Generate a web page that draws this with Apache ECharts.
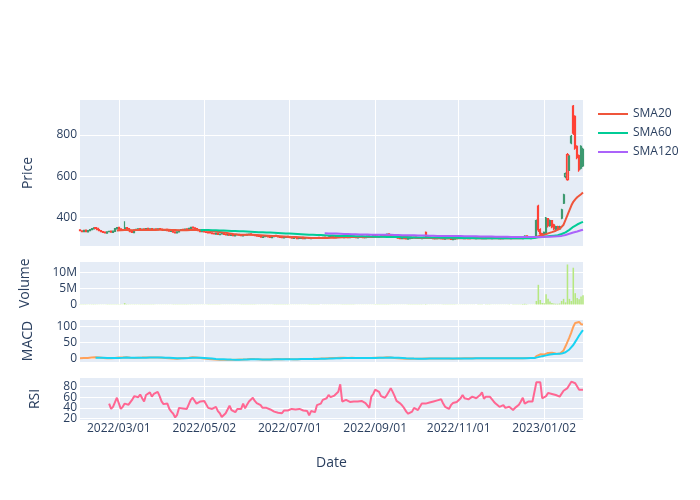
<!DOCTYPE html>
<html><head><meta charset="utf-8">
<script src="https://cdn.jsdelivr.net/npm/echarts@6/dist/echarts.min.js"></script>
<style>html,body{margin:0;padding:0;background:#fff}#c{width:700px;height:500px}</style>
</head><body><div id="c"></div>
<script>
// Trading calendar: weekdays (weekends hidden on the axis)
const startDate = '2022-02-01', endDate = '2023-01-30';
const tickLabels = ['2022/03/01','2022/05/02','2022/07/01','2022/09/01','2022/11/01','2023/01/02'];

const opens = [
340,335,331,339,330,336,341,345,351,348,342,337,332,329,324,331,334,328,333,345,
352,345,341,339,351,346,337,332,327,338,342,346,340,345,341,347,342,346,339,345,
341,346,344,341,337,343,337,333,339,330,325,330,337,343,339,345,339,347,353,350,
346,341,337,331,335,331,329,327,326,323,319,325,317,321,323,319,315,319,313,317,
311,316,319,315,311,317,314,317,321,317,315,313,311,309,304,307,309,311,307,303,
307,313,311,307,305,301,304,309,305,303,299,305,303,299,299,304,297,301,303,298,
302,299,301,304,299,301,305,300,302,305,309,306,302,306,311,307,303,309,306,302,
305,309,305,301,305,310,306,302,306,311,305,307,313,311,305,308,314,309,315,321,
316,310,307,305,303,301,297,301,298,295,297,299,301,305,299,303,298,301,328,306,
305,302,301,297,298,302,301,299,295,298,301,298,293,295,297,299,300,302,298,303,
301,297,299,302,298,299,303,301,297,298,302,301,298,299,303,302,298,301,297,299,
302,301,298,299,302,299,303,301,298,304,311,303,298,302,299,
305,455,342,322,318,324,395,360,385,365,342,356,345,397,469,598,704,631,761,939,890,744,700,639,650];
const closes = [
336,332,338,331,337,342,346,350,347,341,336,331,328,325,330,333,329,334,346,351,
344,340,338,350,345,336,331,328,339,343,345,341,344,342,346,343,345,340,344,342,
345,343,340,338,342,336,334,338,329,326,331,338,342,340,344,340,348,352,349,345,
340,336,332,334,330,328,326,325,322,320,324,318,320,322,318,316,318,314,316,312,
315,318,314,312,316,315,318,320,316,314,312,310,308,305,306,308,310,306,304,308,
312,310,306,304,302,305,308,304,302,300,304,302,298,300,303,298,300,302,299,301,
300,302,303,300,302,304,301,303,306,308,305,303,307,310,306,304,308,305,303,306,
308,304,302,306,309,305,303,307,310,306,308,312,310,306,309,313,310,316,320,315,
309,306,304,302,300,298,300,297,296,298,300,302,304,300,302,299,302,304,306,304,
301,300,298,299,301,300,298,296,299,300,297,294,296,298,300,300,301,299,302,300,
298,300,301,299,300,302,300,298,299,301,300,299,300,302,301,299,300,298,300,301,
300,299,300,301,300,302,300,299,305,310,302,299,301,300,302,
385,340,320,318,328,397,360,385,355,345,356,345,355,437,510,612,583,696,793,809,736,690,631,745,730];
const highs = [
342,338,340,341,339,344,348,353,353,350,344,339,334,331,332,335,336,336,348,354,
354,347,343,382,353,348,339,334,341,345,347,348,346,347,348,349,347,348,346,347,
347,348,346,343,344,345,339,340,341,332,333,340,344,345,346,347,350,355,355,352,
348,343,339,336,337,333,331,329,328,325,326,327,322,324,325,321,320,321,318,319,
317,320,321,317,318,319,320,322,323,319,317,315,313,311,308,310,312,313,309,310,
314,315,313,309,307,307,310,311,307,305,306,307,305,302,305,306,302,304,305,303,
304,304,305,306,304,306,307,305,308,310,311,308,309,312,313,309,310,311,308,308,
310,311,307,308,311,312,308,309,312,313,310,314,315,313,311,315,316,318,323,323,
318,312,309,307,305,303,302,303,300,300,302,304,306,307,304,305,304,306,332,308,
307,304,303,301,303,304,303,301,301,302,303,300,298,300,302,302,303,304,304,305,
303,302,303,304,302,304,305,303,301,303,304,303,302,304,305,304,302,303,302,303,
304,303,302,303,304,304,305,303,308,314,313,305,303,304,304,
390,462,348,326,332,402,398,390,388,370,360,360,360,442,515,618,712,702,800,945,895,750,705,750,738];
const lows = [
333,329,329,328,328,334,339,343,345,339,334,329,326,323,322,328,327,326,331,343,
342,338,336,337,343,334,329,326,325,336,340,339,338,340,339,341,340,338,337,340,
339,341,338,336,335,334,332,331,327,324,323,328,335,338,337,338,337,345,347,343,
338,334,330,329,328,326,324,323,320,318,317,316,315,319,316,314,313,312,311,310,
309,314,312,310,309,313,312,315,314,312,310,308,306,303,302,305,307,304,302,301,
305,308,304,302,300,299,302,302,300,298,297,300,296,297,297,296,295,299,297,296,
298,297,299,298,297,299,299,298,300,303,303,301,300,304,304,302,301,303,301,300,
303,302,300,299,303,303,301,300,304,304,303,305,308,304,303,306,308,307,313,313,
307,304,302,300,298,296,295,295,294,293,295,297,299,298,297,297,296,299,304,302,
299,298,296,295,296,298,296,294,293,296,295,292,291,293,295,297,298,297,296,298,
296,295,297,297,296,297,298,296,295,296,298,297,296,297,299,297,296,296,295,297,
298,297,296,297,298,297,298,297,296,302,300,297,296,298,297,
302,330,315,312,315,320,352,355,348,340,338,340,342,392,465,590,578,625,755,800,728,682,622,632,644];

const sma20 = Array(19).fill(null).concat([
337,
338,338,339,339,339,339,339,338,338,339,339,339,339,339,340,340,340,340,340,340,
341,341,341,341,341,341,340,340,339,339,338,338,338,338,338,338,338,339,339,339,
339,339,338,338,338,337,336,335,334,333,332,331,330,329,327,326,324,323,321,320,
319,318,318,317,317,316,316,316,316,316,315,315,315,314,313,313,312,312,311,311,
311,310,310,309,309,308,308,307,306,306,305,305,304,304,303,303,302,302,302,301,
301,301,301,301,301,301,301,301,302,302,302,302,303,303,303,304,304,304,305,305,
305,305,305,305,305,305,305,305,306,306,306,306,306,307,307,307,307,308,308,309,
309,309,309,308,308,307,307,306,305,305,304,303,303,302,301,301,301,301,301,301,
301,301,301,300,300,300,300,300,300,300,299,299,299,299,299,299,299,299,299,299,
299,299,299,299,299,300,300,300,300,300,300,300,300,300,300,300,300,300,300,300,
300,300,300,300,300,300,300,300,300,301,301,301,301,301,301,
306,310,312,314,316,320,323,326,329,332,336,340,345,352,365,388,412,435,458,476,488,498,505,513,521]);
const sma60 = Array(62).fill(null).concat([
340,339,339,339,339,339,338,338,338,338,337,337,337,336,336,336,335,335,
335,334,334,333,333,333,332,332,331,331,330,330,329,329,328,328,327,327,327,326,
326,326,325,325,324,324,323,323,322,322,321,321,320,320,319,319,318,318,317,317,
316,316,315,315,315,314,314,314,313,313,313,312,312,312,311,311,311,310,310,310,
310,310,309,309,309,309,309,308,308,308,308,308,307,307,307,307,307,306,306,306,
306,306,305,305,305,305,304,304,304,304,304,303,303,303,303,303,303,303,303,303,
303,303,303,303,303,303,302,302,302,302,302,302,302,302,302,302,301,301,301,301,
301,301,301,301,300,300,300,300,300,300,300,300,300,300,300,300,300,300,300,300,
300,300,300,300,300,300,300,300,300,300,300,300,300,301,301,
302,304,305,306,306,308,309,310,311,312,313,314,316,320,324,328,333,340,347,355,361,366,371,375,379]);
const sma120 = Array(126).fill(null).concat([
324,323,323,323,322,322,322,321,321,321,320,320,320,320,
319,319,319,319,318,318,318,318,318,318,317,317,317,317,317,316,316,316,316,316,
316,315,315,315,315,315,314,314,314,314,314,314,314,314,313,313,313,313,313,312,
312,312,312,312,311,311,311,311,311,311,311,310,310,310,310,310,310,310,309,309,
309,309,309,309,309,309,308,308,308,308,308,308,308,307,307,307,307,307,307,307,
307,307,306,306,306,306,306,306,306,306,306,306,306,306,306,
306,306,306,306,306,307,307,307,307,308,308,309,310,311,313,315,318,321,324,327,329,332,335,338,341]);

const volumes = [
60000,45000,52000,40000,50000,65000,75000,85000,70000,55000,48000,50000,45000,42000,55000,46000,43000,50000,80000,95000,
75000,60000,52000,420000,105000,80000,65000,55000,70000,62000,59000,50000,48000,46000,57000,49000,44000,47000,50000,45000,
43000,46000,49000,42000,47000,52000,49000,44000,60000,65000,56000,54000,48000,45000,51000,47000,62000,70000,55000,49000,
52000,50000,48000,44000,46000,42000,40000,41000,45000,47000,43000,49000,42000,40000,43000,45000,41000,44000,39000,42000,
41000,43000,45000,42000,40000,43000,46000,44000,42000,41000,44000,45000,47000,51000,44000,42000,45000,43000,40000,43000,
46000,42000,44000,41000,40000,43000,45000,42000,39000,41000,44000,42000,45000,40000,42000,43000,40000,39000,41000,40000,
39000,41000,42000,40000,38000,41000,43000,40000,44000,46000,42000,40000,43000,47000,44000,41000,43000,42000,40000,41000,
42000,44000,41000,40000,43000,45000,42000,40000,44000,43000,41000,46000,44000,42000,45000,48000,45000,55000,62000,49000,
47000,45000,43000,42000,41000,42000,40000,41000,40000,39000,42000,43000,44000,41000,40000,41000,42000,43000,120000,47000,
44000,42000,41000,40000,41000,40000,39000,41000,42000,40000,39000,43000,42000,40000,39000,40000,41000,39000,40000,39000,
38000,40000,41000,39000,38000,40000,41000,39000,37000,40000,41000,39000,38000,40000,42000,40000,39000,38000,39000,40000,
40000,39000,38000,41000,39000,40000,42000,40000,140000,210000,120000,45000,42000,41000,44000,
1100000,6100000,1400000,500000,400000,3200000,1750000,900000,450000,300000,250000,220000,300000,1100000,1750000,650000,12400000,1750000,1100000,11400000,3500000,2000000,1600000,2500000,2900000];

const macd = [
0,0.3,0.8,0.5,0.9,1.6,2.4,3.3,3.6,3.3,2.6,1.7,0.8,0,-0.1,0.1,-0.2,0.2,1.2,2.3,
2.6,2.5,2.3,3.0,3.1,2.4,1.5,0.6,0.8,1.3,1.9,2.0,2.3,2.4,2.8,2.8,2.9,2.6,2.6,2.4,
2.5,2.3,1.9,1.4,1.3,0.8,0.2,0.0,-0.8,-1.6,-1.6,-0.9,0.0,0.4,1.0,1.1,1.9,2.8,3.1,3.0,
2.4,1.6,0.7,0.2,-0.5,-1.2,-1.9,-2.5,-3.2,-3.8,-3.8,-4.2,-4.3,-4.2,-4.4,-4.6,-4.5,-4.7,-4.6,-4.8,
-4.6,-4.1,-4.0,-4.0,-3.6,-3.4,-3.0,-2.4,-2.3,-2.4,-2.6,-2.9,-3.3,-3.8,-3.9,-3.8,-3.5,-3.5,-3.6,-3.3,
-2.7,-2.4,-2.5,-2.7,-2.9,-2.8,-2.4,-2.4,-2.6,-2.9,-2.7,-2.6,-2.8,-2.7,-2.4,-2.5,-2.4,-2.2,-2.1,-1.9,
-1.8,-1.5,-1.2,-1.1,-0.9,-0.6,-0.5,-0.3,0.1,0.6,0.7,0.6,0.9,1.4,1.4,1.2,1.4,1.3,1.1,1.2,
1.4,1.1,0.8,0.9,1.2,1.1,0.8,0.9,1.3,1.2,1.3,1.7,1.8,1.6,1.7,2.0,2.0,2.4,3.0,3.0,
2.5,1.9,1.3,0.7,0.1,-0.5,-0.7,-1.2,-1.6,-1.8,-1.8,-1.6,-1.3,-1.4,-1.3,-1.4,-1.2,-0.9,-0.5,-0.4,
-0.4,-0.5,-0.7,-0.7,-0.6,-0.6,-0.7,-0.9,-0.8,-0.7,-0.9,-1.3,-1.4,-1.3,-1.0,-0.8,-0.6,-0.5,-0.2,-0.1,
-0.2,-0.1,0.0,0.0,0.0,0.2,0.2,0.1,0.0,0.1,0.1,0.0,0.0,0.1,0.2,0.1,0.1,0.0,0.0,0.0,
0.0,0.0,0.0,0.0,0.0,0.1,0.1,0.0,0.5,1.2,1.1,0.8,0.7,0.6,0.6,
7,11.5,12.5,12,11.8,15.5,17,18,17.3,16,15.5,14.5,14.5,18,25,38,52,66,82,100,112,116,115,108,107];
const signal = Array(8).fill(null).concat([
1.5,1.9,2.0,2.0,1.8,1.4,1.1,0.9,0.7,0.6,0.7,1.0,
1.3,1.5,1.7,1.9,2.2,2.2,2.1,1.8,1.6,1.6,1.7,1.7,1.8,1.9,2.1,2.2,2.4,2.4,2.4,2.4,
2.4,2.4,2.3,2.1,1.9,1.7,1.4,1.1,0.7,0.2,-0.1,-0.3,-0.2,-0.1,0.1,0.3,0.6,1.0,1.4,1.7,
1.8,1.7,1.5,1.3,1.0,0.5,0.0,-0.5,-1.0,-1.6,-2.0,-2.4,-2.8,-3.1,-3.3,-3.6,-3.8,-3.9,-4.1,-4.2,
-4.3,-4.3,-4.2,-4.2,-4.1,-3.9,-3.7,-3.5,-3.3,-3.1,-3.0,-3.0,-3.1,-3.2,-3.4,-3.5,-3.5,-3.5,-3.5,-3.5,
-3.3,-3.2,-3.1,-3.0,-3.0,-2.9,-2.8,-2.7,-2.7,-2.7,-2.7,-2.7,-2.7,-2.7,-2.6,-2.6,-2.6,-2.5,-2.4,-2.3,
-2.2,-2.0,-1.9,-1.7,-1.5,-1.4,-1.2,-1.0,-0.8,-0.5,-0.3,-0.1,0.1,0.3,0.5,0.7,0.8,0.9,1.0,1.0,
1.1,1.1,1.1,1.0,1.0,1.1,1.0,1.0,1.1,1.1,1.1,1.2,1.3,1.4,1.5,1.6,1.7,1.8,2.0,2.2,
2.3,2.2,2.0,1.8,1.4,1.0,0.7,0.3,-0.1,-0.4,-0.7,-0.9,-1.0,-1.1,-1.2,-1.2,-1.2,-1.2,-1.1,-1.0,
-0.9,-0.8,-0.8,-0.8,-0.8,-0.7,-0.7,-0.7,-0.7,-0.7,-0.8,-0.9,-1.0,-1.0,-1.0,-1.0,-0.9,-0.8,-0.7,-0.5,
-0.4,-0.4,-0.3,-0.2,-0.2,-0.1,-0.1,0.0,0.0,0.0,0.0,0.0,0.0,0.0,0.1,0.1,0.1,0.1,0.1,0.1,
0.1,0.1,0.0,0.0,0.0,0.0,0.0,0.0,0.1,0.3,0.5,0.5,0.6,0.6,0.6,
1.9,3.8,5.5,6.8,7.7,9.3,10.7,12.2,13.2,13.8,14.1,14.2,14.2,14.8,16,19,23,28,34,42,52,62,72,81,89]);

const rsi = Array(15).fill(null).concat([
48,38,42,45,59,
58,38,42,48,47,46,47,56,62,59,60,65,58,52,64,66,69,61,66,69,
70,62,52,47,45,48,38,33,29,22,27,40,38,39,36,38,40,55,59,57,
48,50,52,51,53,50,40,38,38,40,42,34,30,23,26,30,33,44,36,34,
32,38,37,38,48,39,46,52,54,59,53,49,47,45,40,39,40,38,37,35,
33,32,31,32,30,35,38,35,33,38,40,37,36,38,36,35,37,34,26,34,
36,32,45,42,48,55,52,58,64,60,61,63,65,70,84,52,54,55,52,51,
53,52,51,52,50,53,51,49,48,40,61,66,74,72,70,62,60,59,64,70,
77,70,62,53,50,48,44,39,33,29,27,33,40,38,36,35,48,51,48,49,
50,51,52,52,54,53,56,48,42,39,38,45,49,52,51,52,58,64,58,56,
56,59,61,58,58,61,64,69,57,61,60,61,58,52,48,45,42,44,45,40,
39,42,39,36,40,42,46,52,59,48,51,52,53,52,52,88,87,88,58,60,
62,68,67,66,64,64,63,61,62,72,75,77,80,89,92,86,80,74,71,74]);

function weekdays(s, e) {
  const out = [];
  const d = new Date(s + 'T00:00:00Z'), end = new Date(e + 'T00:00:00Z');
  while (d <= end) {
    const w = d.getUTCDay();
    if (w !== 0 && w !== 6) {
      out.push(d.getUTCFullYear() + '/' + String(d.getUTCMonth() + 1).padStart(2, '0') + '/' + String(d.getUTCDate()).padStart(2, '0'));
    }
    d.setUTCDate(d.getUTCDate() + 1);
  }
  return out;
}
const dates = weekdays(startDate, endDate);
const ohlc = opens.map((o, i) => [o, closes[i], lows[i], highs[i]]);

const TXT = '#2a3f5f', FONT = 'Open Sans';
const tickSet = new Set(tickLabels);
const isTick = (idx, val) => tickSet.has(val);

const grids = [
  {left: 80, width: 503, top: 100, height: 146},
  {left: 80, width: 503, top: 262, height: 42.5},
  {left: 80, width: 503, top: 320, height: 42},
  {left: 80, width: 503, top: 378, height: 42}
].map(g => Object.assign(g, {show: true, backgroundColor: '#E5ECF6', borderWidth: 0}));

function xAx(i, last) {
  return {
    type: 'category', gridIndex: i, data: dates, boundaryGap: false,
    axisLine: {show: false}, axisTick: {show: false},
    axisLabel: {show: last, interval: isTick, color: TXT, fontSize: 12, fontFamily: FONT, margin: 3},
    splitLine: {show: true, interval: isTick, lineStyle: {color: '#fff', width: 1}},
    name: last ? 'Date' : '', nameLocation: 'middle', nameGap: 36,
    nameTextStyle: {color: TXT, fontSize: 14, fontFamily: FONT}
  };
}
function yAx(i, min, max, ticks, name, gap, fmt) {
  return {
    type: 'value', gridIndex: i, min: min, max: max, position: 'left', offset: 0,
    axisLine: {show: false}, axisTick: {show: false, customValues: ticks},
    axisLabel: {customValues: ticks, color: TXT, fontSize: 12, fontFamily: FONT, margin: 3, formatter: fmt,
      hideOverlap: false, showMinLabel: true, showMaxLabel: true},
    splitLine: {show: true, lineStyle: {color: '#fff', width: 1}},
    name: name, nameLocation: 'middle', nameGap: gap,
    nameTextStyle: {color: TXT, fontSize: 14, fontFamily: FONT}
  };
}
const volFmt = v => v === 0 ? '0' : (v / 1e6) + 'M';

const lineS = (name, data, color, xi, yi) => ({
  name: name, type: 'line', data: data, xAxisIndex: xi, yAxisIndex: yi === undefined ? xi : yi,
  showSymbol: false, symbol: 'none', lineStyle: {color: color, width: 2}, itemStyle: {color: color}, connectNulls: false
});

// RSI ticks are split over two overlaid axes so that closely spaced labels all show
const rsiTicksA = [20, 60], rsiTicksB = [40, 80];

const option = {
  animation: false,
  textStyle: {fontFamily: FONT},
  grid: grids,
  legend: {
    data: ['SMA20', 'SMA60', 'SMA120'], orient: 'vertical', left: 598, top: 107, padding: 0,
    itemWidth: 30, itemHeight: 14, itemGap: 5, icon: 'path://M0,0L30,0L30,2L0,2Z',
    textStyle: {color: TXT, fontSize: 12, fontFamily: FONT, lineHeight: 14}
  },
  xAxis: [xAx(0, false), xAx(1, false), xAx(2, false), xAx(3, true)],
  yAxis: [
    yAx(0, 262, 969, [400, 600, 800], 'Price', 45),
    yAx(1, 0, 13170000, [0, 5000000, 10000000], 'Volume', 48, volFmt),
    yAx(2, -11.7, 121.2, [0, 50, 100], 'MACD', 45),
    yAx(3, 17.3, 95.9, rsiTicksA, 'RSI', 38),
    yAx(3, 17.3, 95.9, rsiTicksB, '', 38)
  ],
  series: [
    {
      name: 'Price', type: 'candlestick', data: ohlc, xAxisIndex: 0, yAxisIndex: 0,
      barWidth: 1.6,
      itemStyle: {color: 'rgba(61,153,112,0.6)', color0: 'rgba(255,65,54,0.6)', borderColor: '#3D9970', borderColor0: '#FF4136', borderWidth: 1.2}
    },
    lineS('SMA20', sma20, '#EF553B', 0),
    lineS('SMA60', sma60, '#00CC96', 0),
    lineS('SMA120', sma120, '#AB63FA', 0),
    {name: 'Volume', type: 'bar', data: volumes, xAxisIndex: 1, yAxisIndex: 1, barCategoryGap: '20%', itemStyle: {color: '#B6E880'}},
    lineS('MACD', macd, '#FFA15A', 2),
    lineS('Signal', signal, '#19D3F3', 2),
    lineS('RSI', rsi, '#FF6692', 3)
  ]
};

const lens = {opens: opens.length, closes: closes.length, highs: highs.length, lows: lows.length, sma20: sma20.length, sma60: sma60.length, sma120: sma120.length, volumes: volumes.length, macd: macd.length, signal: signal.length, rsi: rsi.length};
const bad = Object.keys(lens).filter(k => lens[k] !== dates.length);
if (bad.length) {
  option.graphic = [{type: 'text', left: 10, top: 10, style: {text: 'LEN ' + dates.length + ' ' + bad.map(k => k + ':' + lens[k]).join(' '), fill: 'red', fontSize: 11}}];
}

const chart = echarts.init(document.getElementById('c'), null, {renderer: 'canvas'});
chart.setOption(option);
</script>
</body></html>
